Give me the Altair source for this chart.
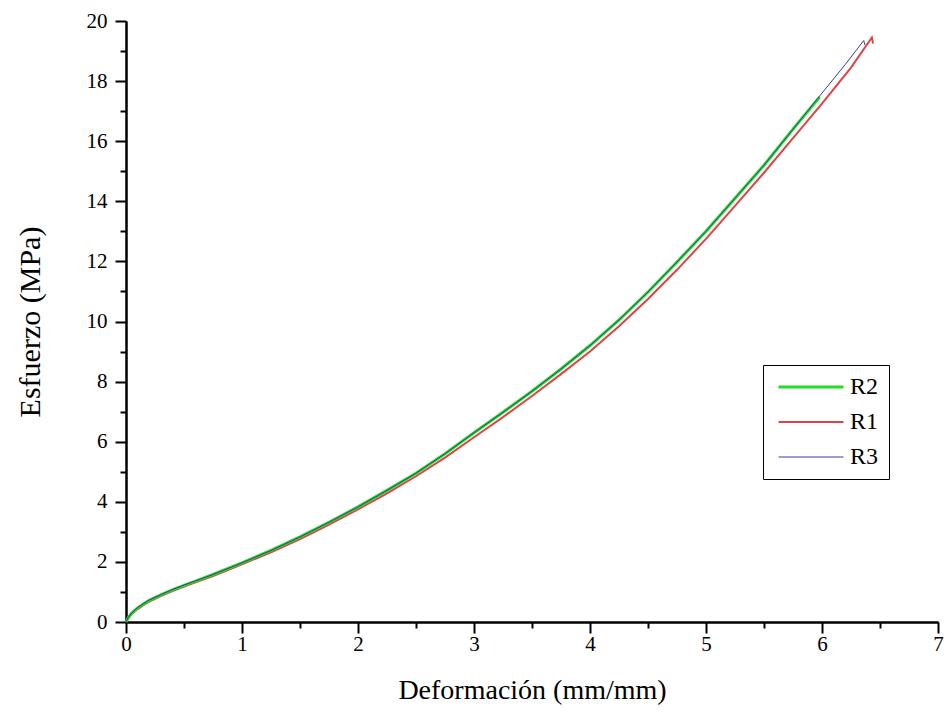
import altair as alt
import pandas as pd

# R2 (green)
r2_x = [0, 0.02, 0.05, 0.1, 0.15, 0.2, 0.3, 0.4, 0.5, 0.6, 0.75, 1.0, 1.25, 1.5, 1.75, 2.0,
        2.25, 2.5, 2.75, 3.0, 3.25, 3.5, 3.75, 4.0, 4.25, 4.5, 4.75, 5.0, 5.25, 5.5, 5.75, 5.98]
r2_y = [0, 0.15, 0.3, 0.47, 0.6, 0.72, 0.9, 1.07, 1.22, 1.36, 1.58, 1.97, 2.38, 2.83, 3.32, 3.83,
        4.38, 4.95, 5.6, 6.3, 6.98, 7.68, 8.42, 9.2, 10.05, 10.98, 11.98, 13.0, 14.1, 15.2, 16.4, 17.47]

# R1 (red)
r1_x = [0, 0.02, 0.05, 0.1, 0.15, 0.2, 0.3, 0.4, 0.5, 0.6, 0.75, 1.0, 1.25, 1.5, 1.75, 2.0,
        2.25, 2.5, 2.75, 3.0, 3.25, 3.5, 3.75, 4.0, 4.25, 4.5, 4.75, 5.0, 5.25, 5.5, 5.75, 6.0,
        6.25, 6.43, 6.44]
r1_y = [0, 0.12, 0.27, 0.43, 0.56, 0.68, 0.86, 1.03, 1.18, 1.32, 1.53, 1.92, 2.32, 2.76, 3.24, 3.75,
        4.28, 4.85, 5.47, 6.15, 6.82, 7.52, 8.25, 9.0, 9.84, 10.75, 11.72, 12.75, 13.85, 14.95, 16.1, 17.25,
        18.45, 19.45, 19.25]

# R3 (blue)
r3_x = [0, 0.02, 0.05, 0.1, 0.15, 0.2, 0.3, 0.4, 0.5, 0.6, 0.75, 1.0, 1.25, 1.5, 1.75, 2.0,
        2.25, 2.5, 2.75, 3.0, 3.25, 3.5, 3.75, 4.0, 4.25, 4.5, 4.75, 5.0, 5.25, 5.5, 5.75, 6.0,
        6.2, 6.36, 6.37]
r3_y = [0, 0.16, 0.31, 0.48, 0.61, 0.73, 0.91, 1.08, 1.23, 1.37, 1.58, 1.97, 2.38, 2.83, 3.32, 3.83,
        4.38, 4.95, 5.6, 6.3, 6.98, 7.68, 8.42, 9.2, 10.05, 10.98, 11.98, 13.0, 14.1, 15.2, 16.4, 17.6,
        18.55, 19.35, 19.2]

series_names = ["R2", "R1", "R3"]
series_colors = ["#22dd22", "#dc4444", "#3c3c9c"]
series_widths = [3, 1, 1]

x_major = list(range(0, 8))
x_minor = [v + 0.5 for v in range(0, 7)]
y_major = list(range(0, 21, 2))
y_minor = list(range(1, 20, 2))

frames = []
for name, xs, ys in [("R1", r1_x, r1_y), ("R2", r2_x, r2_y), ("R3", r3_x, r3_y)]:
    frames.append(pd.DataFrame({"x": xs, "y": ys, "series": name, "idx": range(len(xs))}))
df = pd.concat(frames, ignore_index=True)

FONT = "Liberation Serif"

common = dict(
    tickWidth=2, domainWidth=2, domainColor="black", tickColor="black", grid=False,
    labelFont=FONT, labelColor="black", titleFont=FONT, titleColor="black",
    titleFontWeight="normal",
)

x_axis = alt.Axis(
    values=x_major, format="d", tickSize=11, labelFontSize=21, labelPadding=0,
    labelFlush=False, orient="bottom",
    title="Deformación (mm/mm)", titleFontSize=28, titleBaseline="middle", titleY=68,
    **common,
)
y_axis = alt.Axis(
    values=y_major, format="d", tickSize=11, labelFontSize=21, labelPadding=8,
    labelFlush=False, orient="left",
    title="Esfuerzo (MPa)", titleFontSize=30, titleBaseline="middle", titleX=-96,
    **common,
)
x_axis_minor = alt.Axis(
    values=x_minor, tickSize=6, labels=False, title=None, orient="bottom",
    tickWidth=2, domainWidth=2, domainColor="black", tickColor="black", grid=False,
)
y_axis_minor = alt.Axis(
    values=y_minor, tickSize=6, labels=False, title=None, orient="left",
    tickWidth=2, domainWidth=2, domainColor="black", tickColor="black", grid=False,
)

color_scale = alt.Scale(domain=series_names, range=series_colors)
width_scale = alt.Scale(domain=series_names, range=series_widths)
legend = alt.Legend(
    title=None, orient="none", legendX=637, legendY=344,
    symbolType="M-1,0H9", symbolSize=169, labelFont=FONT, labelFontSize=24,
    labelColor="black", strokeColor="black", padding=10, rowPadding=11,
    labelOffset=53, fillColor="white",
)

x_scale = alt.Scale(domain=[0, 7], nice=False, zero=False)
y_scale = alt.Scale(domain=[0, 20], nice=False)

axes_for = {"R1": (x_axis, y_axis), "R2": (x_axis_minor, y_axis_minor), "R3": (None, None)}

layers = []
for name in ["R1", "R2", "R3"]:
    xa, ya = axes_for[name]
    layers.append(
        alt.Chart(df).transform_filter(alt.datum.series == name).mark_line().encode(
            x=alt.X("x:Q", scale=x_scale, axis=xa),
            y=alt.Y("y:Q", scale=y_scale, axis=ya),
            color=alt.Color("series:N", scale=color_scale, legend=legend),
            strokeWidth=alt.StrokeWidth("series:N", scale=width_scale, legend=legend),
            order="idx:Q",
        )
    )

chart = alt.layer(*layers).resolve_axis(x="independent", y="independent").properties(
    width=812, height=601,
    autosize=alt.AutoSizeParams(type="none"),
    padding={"left": 126, "top": 21, "right": 10, "bottom": 94},
    background="white",
).configure(font=FONT).configure_view(stroke=None).configure_axis(
    labelFont=FONT, titleFont=FONT
).configure_legend(labelFont=FONT)

chart.save("out.html", embed_options={"renderer": "svg", "actions": False})
